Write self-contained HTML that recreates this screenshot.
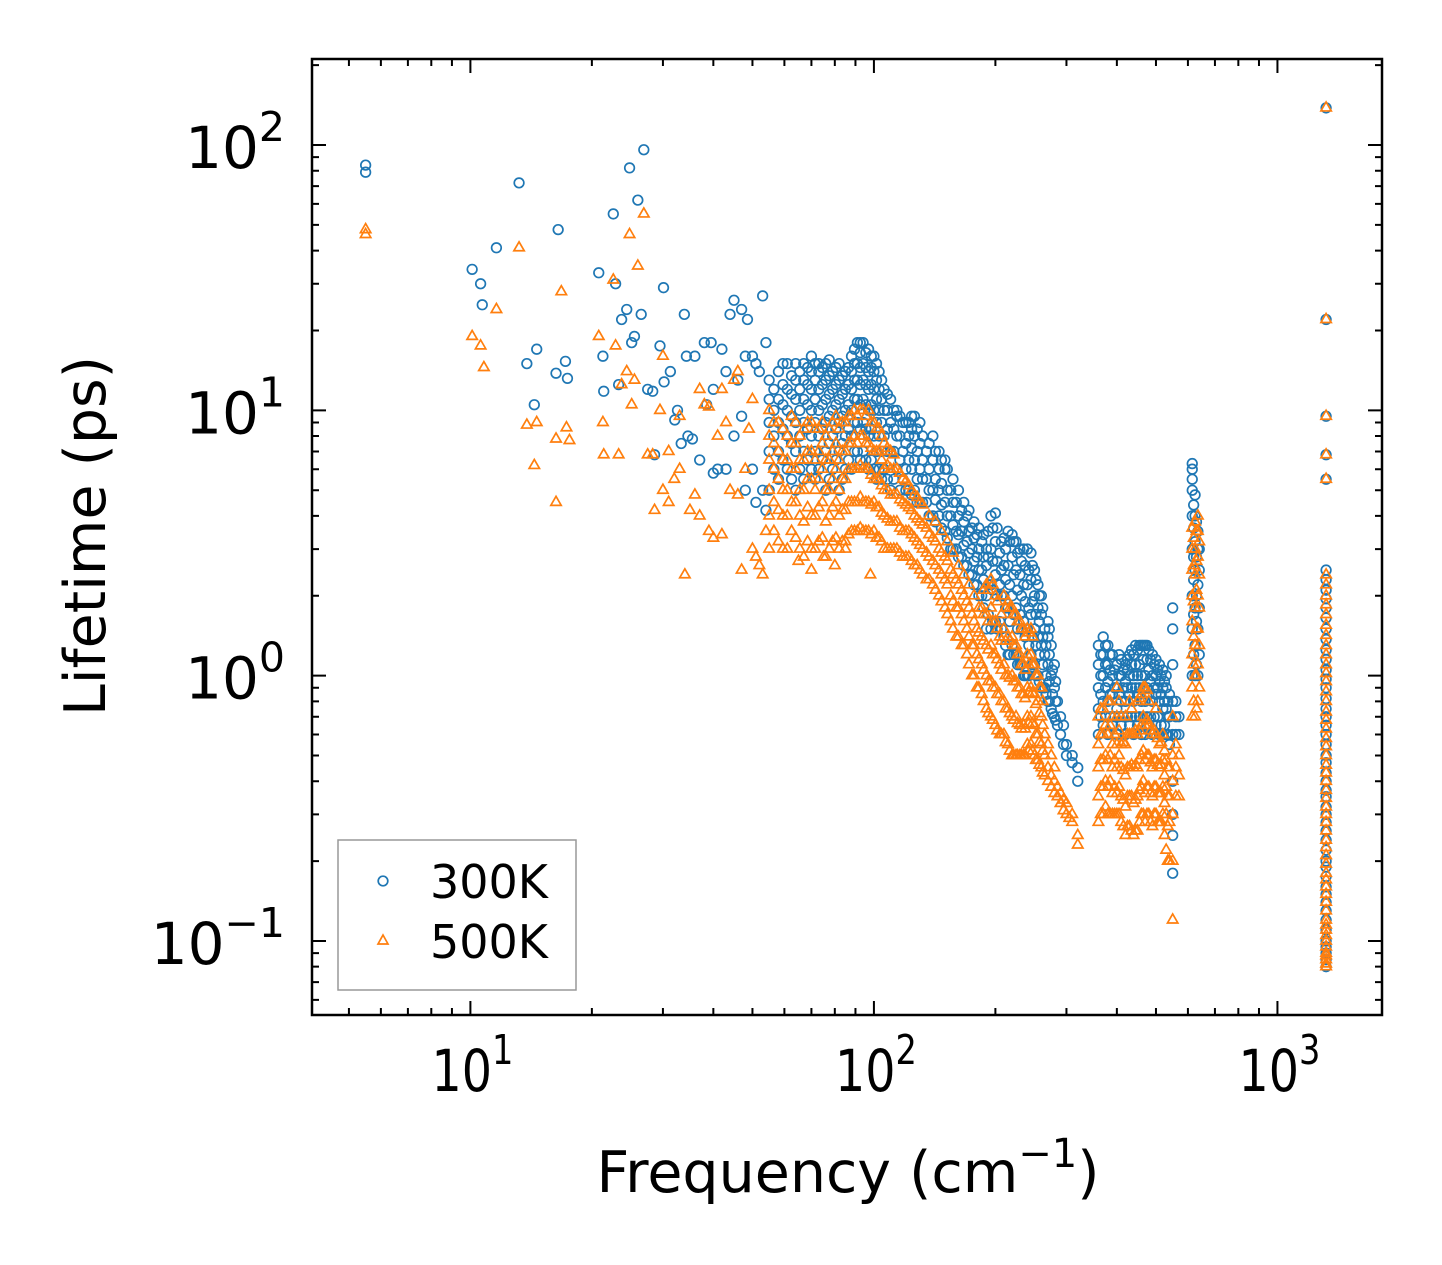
<!DOCTYPE html>
<html><head><meta charset="utf-8">
<style>
html,body{margin:0;padding:0;background:#fff;}
svg{display:block;font-family:"DejaVu Sans","Liberation Sans",sans-serif;}
</style></head>
<body>
<svg id="chart" width="1442" height="1265" viewBox="0 0 1442 1265" xmlns="http://www.w3.org/2000/svg">
<rect width="1442" height="1265" fill="#fff"/>
<g id="plot"></g>
<g id="axes"></g>
<text x="0" y="0" font-size="57" text-anchor="middle" transform="translate(105,536) rotate(-90)">Lifetime (ps)</text>
<text x="848" y="1192" font-size="57" text-anchor="middle">Frequency (cm<tspan font-size="40" dy="-25">−1</tspan><tspan dy="25">)</tspan></text>
<g>
<rect x="338" y="840" width="238" height="150" fill="#fff" stroke="#999" stroke-width="1.5"/>
<circle cx="383" cy="881" r="4.8" fill="none" stroke="#1f77b4" stroke-width="1.7"/>
<text x="430" y="898" font-size="46">300K</text>
<path d="M383,935 L388,944 L378,944 Z" fill="none" stroke="#ff7f0e" stroke-width="1.7"/>
<text x="430" y="958" font-size="46">500K</text>
</g>
</svg>
<script>
// Data: each entry [frequency (cm^-1), lifetime values (ps) ...]
const series300K = [
[5.5,84,79],[10.1,34],[10.6,30],[10.7,25],[11.6,41],[13.2,72],[13.8,15],[14.4,10.5],[14.6,17],[16.3,13.8],[16.5,48],[17.2,15.3],[17.4,13.2],
[20.8,33],[21.3,16],[21.4,11.8],[22.6,55],[22.9,30],[23.3,12.5],[23.7,22],[24.4,24],[24.8,82],[25.1,18],[25.5,19],[26.0,62],[26.5,23],[26.9,96],
[27.5,12],[28.3,11.8],[28.6,6.8],[29.5,17.5],[30.1,29],[30.2,12.8],[31.3,14],[32.1,9.2],[32.6,10],[33.3,7.5],[33.9,23],[34.3,16],[34.6,8],
[35.5,7.8],[36,16],[37,6.5],[38,18],[38.5,10.5],[39.5,18],[40,12,5.8],[41,6],[42,17],[43,6,14],[44,23],[45,26,8],[46,13],[47,24,9.5],[48,16,5],
[48.6,22],[50,16,6],[51,15,4.5],[52,14],[53,27,5],[54,18,4.2],
[55,5,7,9,11,13],[58,5.5,7,9,11,14],[61,6,8,10,12,15],[64,5,7,9,11,13,15],[67,5.5,7,9,11,13,15],[70,6,8,10,12,14,16],[73,6,8,10,12,14,15],
[76,5,7,9,11,13,15],[79,6,8,10,12,14],[82,5,7,9,11,13,15],[85,6,8,10,12,14],[88,6,8,10,12,14,16],[91,7,9,11,13,15,18],[94,7,9,11,13,15,18],
[97,6,8,10,12,14,17],[100,6,8,10,12,14,16],[103,6,8,10,12,14],[106,6,8,10,12],[110,5,7,9,11],[114,6,8,10,9.5],[118,5.5,7,9],[122,5,6.5,8,9],
[126,5,6.5,8,9.5],[130,4.5,6,7.5,9],[135,4.5,5.5,7],[140,4,5,6.5,8],[145,4,5,6,7],[150,3.5,4.5,6,6.5],[155,3,4,5],[160,3,3.5,4.5],
[165,2.8,3.5,4.2],[170,2.6,3.2,4],[175,2.4,3,3.6],[180,2.2,2.8,3.4],[185,2,2.5,3.2],[190,1.5,2,2.6,3],[195,1.5,2.2,3,4],[200,1.6,2.4,3.2,4.1],
[205,1.6,2.2,2.9],[210,1.4,2,2.6,3.3],[215,1.2,1.8,2.6,3.5],[220,1.3,2,2.8,3.4],[225,1.2,1.8,2.5,3.2],[230,1.1,1.7,2.4,3],[235,1,1.6,2.2,3],
[240,1,1.5,2.2,3],[245,1.2,1.7,2.3,2.9],[250,1.1,1.5,2,2.5],[255,1,1.4,1.8,2.2],[260,0.9,1.3,1.7,2],[265,0.9,1.2,1.5],[270,0.8,1.1,1.4,1.6],
[275,0.75,1,1.3],[280,0.7,0.9,1.1],[285,0.65,0.8],[290,0.6,0.7],[295,0.55,0.65],[300,0.5,0.55],[310,0.47,0.5],[320,0.4,0.45],
[360,0.6,0.75,0.9,1.1,1.3],[370,0.65,0.8,1,1.2,1.4],[380,0.6,0.8,0.95,1.1,1.3],[390,0.65,0.85,1,1.2],[400,0.6,0.75,0.9,1.1],[410,0.65,0.8,1,1.15],
[420,0.6,0.8,0.95,1.1],[430,0.65,0.85,1,1.2],[440,0.6,0.8,1,1.2],[450,0.65,0.85,1,1.25],[460,0.6,0.8,1,1.3],[470,0.6,0.8,1,1.3],
[480,0.65,0.85,1.05,1.25],[490,0.6,0.8,1,1.2],[500,0.65,0.85,1,1.15],[510,0.6,0.8,0.95,1.1],[520,0.6,0.75,0.9,1.05],[530,0.6,0.75,0.9,1],
[540,0.55,0.7,0.85],[550,0.6,0.8,1.1,1.5,1.8,0.4,0.3,0.25,0.18],[560,0.6,0.7,0.8],[570,0.6,0.7],
[615,1,1.5,2,3,4,5,5.5,6,6.3],[625,1,1.3,1.8,2.5,3.2,4,4.8],[635,1,1.5,2.2,3,3.5],
[1320,0.08,0.09,0.1,0.12,0.14,0.16,0.19,0.22,0.26,0.3,0.35,0.4,0.47,0.55,0.65,0.75,0.9,1.05,1.25,1.5,1.8,2.1,2.5,5.5,6.8,9.5,22,138]
];
const series300KDense = [
[56.5,6,8,10,12],[59.5,6.5,8.5,10.5,12.5,15],[62.5,5.5,7.5,9.5,11.5,13.5],[65.5,6,8,10,12,14],[68.5,6.5,8.5,10.5,12.5,14.5],
[71.5,5.5,7,9,11,13,15],[74.5,6.5,8.5,10.5,12.5,14.5],[77.5,5.5,7.5,9.5,11.5,13.5,15.5],[80.5,6.5,8.5,10.5,12.5,14.5],[83.5,5.5,7.5,9.5,11.5,13.5],
[86.5,6.5,8.5,10.5,12.5,14.5],[89.5,7,9,11,13,15,17],[92.5,6.5,8.5,10.5,12.5,14.5,16.5,18],[95.5,6.5,8.5,10.5,12.5,14.5,16.5],[98.5,6.5,8.5,10.5,12.5,14.5,16],
[101.5,5.5,7,9,11,13,15],[104.5,5.5,7,9,11,13],[108,5.5,7,8.5,10,11.5],[112,5.5,7,8.5,10],[116,5,6.5,8,9.5],[120,5,6,7.5,9],[124,4.8,6,7.2,8.5,9.5],
[128,4.5,5.5,7,8.5],[132,4.5,5.5,6.5,8],[137,4,5,6,7.5],[142,3.8,4.6,5.5,7],[147,3.6,4.4,5.3,6.5],[152,3.3,4,5,6],[157,3,3.7,4.5,5.5],
[162,2.8,3.4,4,5],[167,2.6,3.1,3.8,4.5],[172,2.4,2.9,3.5,4.2],[177,2.2,2.7,3.3,3.8],[182,2,2.5,3,3.6],[187,1.8,2.3,2.8,3.4],[192,1.7,2.2,2.8,3.5],
[197,1.6,2.1,2.7,3.6],[202,1.5,2,2.7,3.6],[207,1.5,2,2.5,3.2],[212,1.3,1.8,2.3,3],[217,1.2,1.6,2.2,3.2],[222,1.2,1.7,2.4,3.2],[227,1.1,1.5,2.1,2.9],
[232,1.1,1.5,2,2.7],[237,1,1.4,1.9,2.6],[242,1,1.3,1.8,2.5],[247,1.1,1.4,1.9,2.6],[252,1,1.3,1.7,2.3],[257,0.95,1.2,1.6,2],[262,0.9,1.1,1.4,1.8],
[267,0.85,1,1.3],[272,0.8,0.95,1.2,1.5],[277,0.72,0.85,1.05],[282,0.68,0.8,0.95],
[365,0.7,0.85,1,1.2],[375,0.7,0.9,1.1,1.3],[385,0.7,0.85,1.05,1.2],[395,0.7,0.9,1.05],[405,0.7,0.85,1,1.2],[415,0.7,0.9,1.05],[425,0.7,0.9,1.05,1.15],
[435,0.7,0.9,1.1,1.25],[445,0.7,0.9,1.1,1.3],[455,0.7,0.9,1.1,1.3],[465,0.7,0.9,1.15,1.3],[475,0.7,0.9,1.15,1.3],[485,0.7,0.95,1.15],[495,0.7,0.9,1.1],
[505,0.7,0.9,1.05],[515,0.65,0.85,1],[525,0.65,0.8,0.95],[535,0.6,0.7,0.8],
[620,1.2,1.7,2.3,2.8,3.6,4.4],[630,1.1,1.6,2,2.8,3.8],[640,1.2,1.8,2.5,3],
[1320,0.085,0.095,0.11,0.13,0.15,0.175,0.2,0.24,0.28,0.32,0.37,0.43,0.5,0.6,0.7,0.82,0.97,1.15,1.37,1.65,1.95,2.3]
];
const series500K = [
[5.5,48,46],[10.1,19],[10.6,17.5],[10.8,14.5],[11.6,24],[13.2,41],[13.8,8.8],[14.4,6.2],[14.6,9],[16.3,7.8,4.5],[16.8,28],[17.3,8.6],[17.6,7.7],
[20.8,19],[21.3,9],[21.4,6.8],[22.6,31],[22.9,17.5],[23.3,6.8],[23.7,12.5],[24.4,14],[24.8,46],[25.1,10.5],[25.5,13],[26,35],[26.9,55],
[27.5,6.8],[28.3,6.8],[28.6,4.2],[29.5,10],[30,5,16],[31,4.5,7],[32,5.5],[33,6,9.5],[34,2.4],[35,4.2],[36,4.8],[37,4,12],[38,10.5],[39,3.5,10.3],
[40,3.3],[41,8],[42,3.4,12],[43,9],[44,5],[45,13],[46,4.8,14],[47,2.5],[48,6],[49,8.5],[50,3,11],[51,2.8],[52,2.6],[53,2.4],[54,3.5],
[55,3,4,5,6.5,8,10],[58,3.2,4.2,5.5,7,9],[61,3,4,5,6.5,8],[64,3.3,4.5,6,7.5,9],[65,2.7],[67,2.8,3.8,5,6.5,8.5],[70,3,4,5.5,7,9,2.5],
[73,3.2,4.3,5.5,7,8.5],[75,2.8],[76,2.8,3.8,5,6.5,8],[79,3.2,4.3,5.5,7,9],[80,2.6],[82,3,4,5,6.5,8.5],[85,3.2,4.2,5.5,7,9,3],
[88,3.5,4.5,6,7.5,9.5],[91,3.5,4.5,6,7.5,9.5],[94,3.5,4.5,6,8,10],[97,3.5,4.5,6,7.5,10],[98,2.4],[100,3.5,4.5,5.5,7,9],[103,3.3,4.3,5.5,7,8.5],
[106,3,4,5,6,7.5],[110,3,3.8,4.8,6,7],[114,3,3.8,4.8,6],[118,2.8,3.5,4.5,5.5],[122,2.8,3.5,4.3,5.2],[126,2.6,3.3,4,4.8],[130,2.5,3.1,3.8,4.5],
[135,2.3,2.9,3.6],[140,2.2,2.7,3.3],[145,2,2.5,3],[150,1.8,2.3,2.8],[155,1.6,2,2.5],[160,1.4,1.8,2.3],[165,1.3,1.7,2.1],[170,1.2,1.5,1.9],
[175,1,1.3,1.7],[180,0.9,1.2,1.5],[185,0.85,1.1,1.4,1.8],[190,0.75,1,1.3,1.7,2.2],[195,0.7,0.95,1.3,1.8,2.3],[200,0.65,0.9,1.2,1.6,2],
[205,0.6,0.85,1.1,1.4],[210,0.6,0.8,1.1,1.5,2],[215,0.55,0.75,1,1.4,1.9],[220,0.5,0.7,1,1.4,1.8],[225,0.5,0.7,0.95,1.3,1.7],[230,0.5,0.65,0.9,1.2,1.6],
[235,0.5,0.65,0.85,1.1,1.5],[240,0.55,0.7,0.9,1.2,1.5],[245,0.55,0.7,0.9,1.2,1.5],[250,0.5,0.65,0.85,1.1],[255,0.48,0.6,0.8,1],
[260,0.45,0.55,0.7,0.9],[265,0.42,0.5,0.6],[270,0.4,0.45,0.55],[280,0.36,0.4,0.45],[290,0.33,0.36],[300,0.3,0.33],[310,0.28,0.3],[320,0.25,0.23],
[360,0.28,0.35,0.45,0.55,0.7],[370,0.3,0.38,0.48,0.6,0.75],[380,0.3,0.38,0.48,0.6,0.8],[390,0.3,0.36,0.45,0.55,0.7],[400,0.3,0.36,0.45,0.55,0.7,0.9],
[410,0.28,0.35,0.45,0.55,0.7],[420,0.25,0.32,0.42,0.55,0.7],[430,0.27,0.35,0.45,0.6,0.8],[440,0.25,0.33,0.45,0.6],[450,0.26,0.35,0.45,0.6,0.8],
[460,0.3,0.38,0.5,0.65,0.85],[470,0.28,0.36,0.48,0.65,0.9],[480,0.3,0.38,0.5,0.65,0.8],[490,0.27,0.35,0.45,0.6],[500,0.3,0.38,0.48,0.6,0.75],
[510,0.28,0.36,0.45,0.55],[520,0.3,0.38,0.48,0.6],[530,0.22,0.3,0.38,0.48],[540,0.2,0.28,0.35,0.45],[550,0.12,0.2,0.3,0.4,0.5,0.7],
[560,0.35,0.45,0.55],[570,0.35,0.42,0.5],
[615,0.7,0.9,1.2,1.6,2,2.5,3,3.6],[625,0.7,1,1.3,1.8,2.4,3,3.8],[635,0.8,1.1,1.5,2,2.8,3.5,4],
[1320,0.08,0.085,0.09,0.1,0.11,0.12,0.14,0.16,0.18,0.21,0.24,0.28,0.32,0.37,0.43,0.5,0.58,0.68,0.8,0.95,1.1,1.3,1.55,1.85,2.2,5.5,6.8,9.5,22,138]
];
const series500KDense = [
[56.5,3.5,4.5,6,7.5,9],[59.5,3,4,5,6.5,8.5],[62.5,3.5,4.5,6,7.5,9.5],[65.5,3,4,5,6.5,8],[68.5,3.2,4.3,5.5,7,9],[71.5,3,4,5,6.5,8.5],
[74.5,3.3,4.5,6,7.5,9],[77.5,3,4,5,6.5,8.5],[80.5,3.3,4.5,6,7.5,9.5],[83.5,3.2,4.2,5.5,7,9],[86.5,3.4,4.5,6,7.5,9.5],[89.5,3.5,4.5,6,8,10],
[92.5,3.6,4.7,6.2,8,10],[95.5,3.5,4.5,6,7.5,9.5],[98.5,3.4,4.4,5.7,7.2,9],[101.5,3.3,4.3,5.5,7,8.5],[104.5,3.2,4.1,5.2,6.5,8],[108,3,3.9,5,6.2,7.2],
[112,3,3.8,4.8,6,6.8],[116,2.9,3.6,4.6,5.8],[120,2.8,3.5,4.4,5.4],[124,2.7,3.4,4.2,5],[128,2.6,3.2,3.9,4.7],[132,2.4,3,3.7,4.4],[137,2.3,2.8,3.4,4],
[142,2.1,2.6,3.2,3.8],[147,1.9,2.4,2.9,3.5],[152,1.7,2.2,2.7,3.2],[157,1.5,1.9,2.4,2.9],[162,1.4,1.8,2.2,2.6],[167,1.3,1.6,2,2.4],[172,1.1,1.4,1.8,2.2],
[177,1,1.3,1.6,2],[182,0.9,1.15,1.45,1.8],[187,0.8,1.05,1.35,1.7,2.1],[192,0.72,0.95,1.25,1.6,2.1],[197,0.68,0.9,1.2,1.6,2.2],[202,0.62,0.85,1.15,1.5,1.9],
[207,0.6,0.8,1.05,1.35,1.7],[212,0.56,0.75,1,1.35,1.8],[217,0.52,0.72,0.98,1.35,1.8],[222,0.5,0.68,0.95,1.3,1.7],[227,0.5,0.66,0.9,1.2,1.6],
[232,0.5,0.63,0.85,1.1,1.5],[237,0.5,0.63,0.82,1.05,1.4],[242,0.52,0.66,0.86,1.1,1.45],[247,0.52,0.66,0.86,1.1,1.4],[252,0.48,0.6,0.78,1],
[257,0.46,0.56,0.72,0.9],[262,0.43,0.52,0.65,0.8],[275,0.38,0.42,0.5],[285,0.35,0.38],[295,0.31,0.34],[305,0.29],
[365,0.3,0.38,0.48,0.6,0.75],[375,0.32,0.4,0.5,0.65],[385,0.3,0.4,0.5,0.65,0.8],[395,0.3,0.38,0.48,0.6],[405,0.3,0.38,0.5,0.62,0.8],
[415,0.27,0.34,0.44,0.56],[425,0.27,0.35,0.45,0.6],[435,0.26,0.35,0.46,0.6,0.75],[445,0.26,0.34,0.46,0.62],[455,0.28,0.37,0.48,0.62,0.82],
[465,0.3,0.4,0.52,0.7,0.9],[475,0.3,0.38,0.5,0.68,0.88],[485,0.28,0.36,0.47,0.62],[495,0.3,0.38,0.48,0.62],[505,0.28,0.36,0.46,0.58],
[515,0.28,0.36,0.46,0.56],[525,0.25,0.33,0.42,0.52],[535,0.2,0.27,0.35,0.45],
[620,0.8,1.1,1.4,1.9,2.6,3.3],[630,0.75,1,1.5,2.1,2.7,3.5],[640,0.9,1.3,1.8,2.4,3.2],
[1320,0.082,0.088,0.095,0.105,0.115,0.13,0.15,0.17,0.195,0.225,0.26,0.3,0.345,0.4,0.46,0.54,0.63,0.73,0.87,1.02,1.2,1.42,1.7,2,2.4]
];
const xTickExps = [1,2,3];
const yTickExps = [2,1,0,-1];

const NS="http://www.w3.org/2000/svg";
const L=312,R=1382,T=59,B=1015;
const xMin=Math.log10(4.05), xMax=Math.log10(1816);
const yMin=Math.log10(0.0526), yMax=Math.log10(211);
const xs=v=>L+(Math.log10(v)-xMin)/(xMax-xMin)*(R-L);
const ys=v=>B-(Math.log10(v)-yMin)/(yMax-yMin)*(B-T);
function mk(tag,attrs,parent){const e=document.createElementNS(NS,tag);for(const k in attrs)e.setAttribute(k,attrs[k]);parent.appendChild(e);return e;}
const plot=document.getElementById('plot');
const axes=document.getElementById('axes');

const g1=mk('g',{},plot);


series300K.concat(series300KDense).forEach(col=>{const f=col[0];for(let i=1;i<col.length;i++){
  const c=mk('circle',{cx:xs(f),cy:ys(col[i]),r:4.8,fill:'none',stroke:'#1f77b4','stroke-width':1.7},g1);
  
  
}});
const g2=mk('g',{},plot);


series500K.concat(series500KDense).forEach(col=>{const f=col[0];for(let i=1;i<col.length;i++){
  const x=xs(f),y=ys(col[i]);
  const p=mk('path',{d:`M${x},${y-6} L${x+5.2},${y+3} L${x-5.2},${y+3} Z`,fill:'none',stroke:'#ff7f0e','stroke-width':1.7},g2);
  
  
}});

const fr=mk('rect',{x:L,y:T,width:R-L,height:B-T,fill:'none',stroke:'#000','stroke-width':2.5},axes);


let d='';
for(let e=0;e<=3;e++)for(let m=1;m<10;m++){const v=m*Math.pow(10,e);if(v<4.05||v>1816)continue;const x=xs(v),len=m===1?14:7;
  d+=`M${x},${B}v${-len}M${x},${T}v${len}`;}
for(let e=-2;e<=2;e++)for(let m=1;m<10;m++){const v=m*Math.pow(10,e);if(v<0.0526||v>211)continue;const y=ys(v),len=m===1?14:7;
  d+=`M${L},${y}h${len}M${R},${y}h${-len}`;}
const tk=mk('path',{d:d,stroke:'#000','stroke-width':2,fill:'none'},axes);


xTickExps.forEach(e=>{
  const cx=xs(Math.pow(10,e))+2;
  const t=mk('text',{x:0,y:0,'font-size':58,'text-anchor':'middle',transform:`translate(${cx},1091) scale(0.82,1)`},axes);
  
  
  t.innerHTML=`10<tspan font-size="41" dy="-27">${e}</tspan>`;
});
yTickExps.forEach(e=>{
  const t=mk('text',{x:285,y:ys(Math.pow(10,e))+23,'font-size':58,'text-anchor':'end'},axes);
  
  
  t.innerHTML=`10<tspan font-size="41" dy="-27">${e<0?'−'+(-e):e}</tspan>`;
});
</script>
</body></html>
